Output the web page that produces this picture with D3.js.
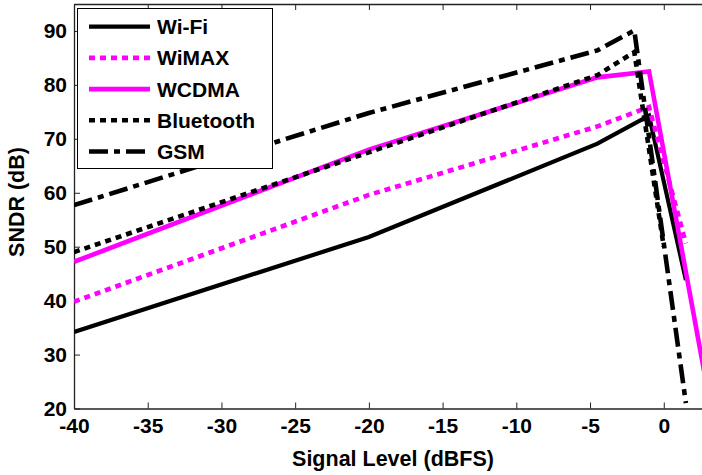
<!DOCTYPE html>
<html>
<head>
<meta charset="utf-8">
<script src="https://cdn.jsdelivr.net/npm/d3@7"></script>
<style>
  html, body { margin: 0; padding: 0; background: #fff; overflow: hidden; }
  svg { display: block; }
  text { font-family: "Liberation Sans", Arial, sans-serif; font-weight: bold; }
</style>
</head>
<body>
<script>
// ---- data ----
const seriesNames = ["Wi-Fi", "WiMAX", "WCDMA", "Bluetooth", "GSM"];
const wifiX = [-40, -20, -4.5, -1, 1.5];
const wifiY = [34.2, 51.8, 69.1, 74.3, 43.8];
const wimaxX = [-40, -20, -4.5, -1, 1.5];
const wimaxY = [39.8, 59.6, 72.3, 75.9, 50.6];
const wcdmaX = [-40, -20, -4.5, -1, 3];
const wcdmaY = [47.2, 68.0, 81.4, 82.5, 23.0];
const bluetoothX = [-40, -20, -4.5, -2, 0];
const bluetoothY = [49.0, 67.5, 81.8, 86.1, 50.0];
const gsmX = [-40, -20, -4.5, -2, 1.5];
const gsmY = [57.7, 74.8, 86.4, 90.1, 21.0];
const xTicks = [-40, -35, -30, -25, -20, -15, -10, -5, 0];
const yTicks = [20, 30, 40, 50, 60, 70, 80, 90];

(function () {
const W = 702, H = 475;
const pL = 74, pR = 708, pT = 4, pB = 408.5;

const svg = d3.select("body").append("svg").attr("width", W).attr("height", H);

const x = d3.scaleLinear().domain([-40, 3]).range([pL, pR]);
const y = d3.scaleLinear().domain([20, 95]).range([pB, pT]);

svg.append("defs").append("clipPath").attr("id", "clip")
  .append("rect").attr("x", pL).attr("y", pT).attr("width", pR - pL).attr("height", pB - pT);

const styles = [
  { color: "#000000", dash: null, width: 4.2 },
  { color: "#ff00ff", dash: "6,5", width: 4.6 },
  { color: "#ff00ff", dash: null, width: 4.6 },
  { color: "#000000", dash: "6,5", width: 4.6 },
  { color: "#000000", dash: "19,6,6,6", width: 4.6 }
];
const series = [
  { name: seriesNames[0], xs: wifiX, ys: wifiY },
  { name: seriesNames[1], xs: wimaxX, ys: wimaxY },
  { name: seriesNames[2], xs: wcdmaX, ys: wcdmaY },
  { name: seriesNames[3], xs: bluetoothX, ys: bluetoothY },
  { name: seriesNames[4], xs: gsmX, ys: gsmY }
];

const fmt = d => String(d);
const axisColor = "#222";
const gBottom = svg.append("g").attr("transform", `translate(0,${pB})`)
  .call(d3.axisBottom(x).tickValues(xTicks).tickSizeInner(-6).tickSizeOuter(0).tickPadding(10).tickFormat(fmt));
const gTop = svg.append("g").attr("transform", `translate(0,${pT})`)
  .call(d3.axisTop(x).tickValues(xTicks).tickSizeInner(-6).tickSizeOuter(0).tickFormat(""));
const gLeft = svg.append("g").attr("transform", `translate(${pL},0)`)
  .call(d3.axisLeft(y).tickValues(yTicks).tickSizeInner(-6).tickSizeOuter(0).tickPadding(7).tickFormat(fmt));
const gRight = svg.append("g").attr("transform", `translate(${pR},0)`)
  .call(d3.axisRight(y).tickValues(yTicks).tickSizeInner(-6).tickSizeOuter(0).tickFormat(""));

[gBottom, gTop, gLeft, gRight].forEach(g => {
  g.select(".domain").attr("stroke", axisColor).attr("stroke-width", 1.3);
  g.selectAll(".tick line").attr("stroke", axisColor).attr("stroke-width", 1);
  g.selectAll("text").attr("fill", "#000").style("font-size", "21px").style("font-weight", "bold")
    .style("font-family", '"Liberation Sans", Arial, sans-serif');
});

const line = d3.line().x(d => x(d[0])).y(d => y(d[1]));
const plot = svg.append("g").attr("clip-path", "url(#clip)");
series.forEach((s, i) => {
  const pts = s.xs.map((v, k) => [v, s.ys[k]]);
  plot.append("path").datum(pts)
    .attr("d", line)
    .attr("fill", "none")
    .attr("stroke", styles[i].color)
    .attr("stroke-width", styles[i].width)
    .attr("stroke-linejoin", "miter")
    .attr("stroke-dasharray", styles[i].dash);
});

svg.append("text").attr("x", 393).attr("y", 466).attr("text-anchor", "middle")
  .style("font-size", "21.5px").text("Signal Level (dBFS)");
svg.append("text").attr("transform", "translate(24,202) rotate(-90)").attr("text-anchor", "middle")
  .style("font-size", "21.5px").text("SNDR (dB)");

const lg = svg.append("g");
lg.append("rect").attr("x", 77.5).attr("y", 8.5).attr("width", 195).attr("height", 160)
  .attr("fill", "#fff").attr("stroke", "#000").attr("stroke-width", 1);
series.forEach((s, i) => {
  const yy = 26.7 + i * 31.2;
  lg.append("line").attr("x1", 89).attr("x2", 150).attr("y1", yy).attr("y2", yy)
    .attr("stroke", styles[i].color).attr("stroke-width", styles[i].width)
    .attr("stroke-dasharray", styles[i].dash);
  lg.append("text").attr("x", 157).attr("y", yy + 7.5).style("font-size", "21px").text(s.name);
});
})();
</script>
</body>
</html>
